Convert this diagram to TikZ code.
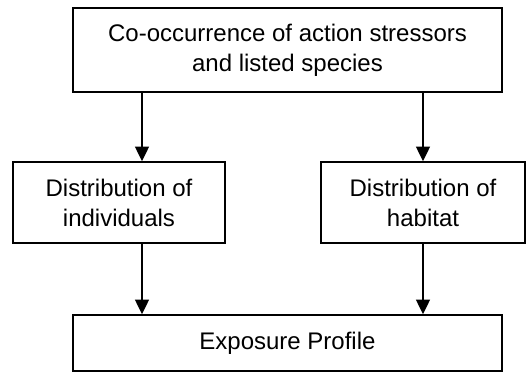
\documentclass[tikz,border=0pt]{standalone}
\usepackage{fontspec}
\setmainfont{Liberation Sans}
\usetikzlibrary{arrows.meta}

\begin{document}
\begin{tikzpicture}[x=0.75pt,y=-0.75pt,
  box/.style={draw,line width=1.2pt,rectangle,align=center,inner sep=0pt,
    font=\fontsize{18}{22.5}\selectfont},
  arr/.style={-{Triangle[width=10.5pt,length=11pt]},line width=1.2pt}]
\useasboundingbox (0,0) rectangle (526,373);

\node[box,minimum width=321.75pt,minimum height=63pt] (cooc) at (287.5,50)
  {Co-occurrence of action stressors\\and listed species};
\node[box,minimum width=159pt,minimum height=60.75pt] (indiv) at (119,202.5)
  {Distribution of\\individuals};
\node[box,minimum width=153pt,minimum height=60.75pt] (habit) at (423,202.5)
  {Distribution of\\habitat};
\node[box,minimum width=321.75pt,minimum height=42pt] (expo) at (287.5,343)
  {Exposure Profile};

\draw[arr] (cooc.south -| 142,0) -- (indiv.north -| 142,0);
\draw[arr] (cooc.south -| habit.north) -- (habit.north);
\draw[arr] (indiv.south -| 142,0) -- (expo.north -| 142,0);
\draw[arr] (habit.south) -- (expo.north -| habit.south);

\end{tikzpicture}
\end{document}
